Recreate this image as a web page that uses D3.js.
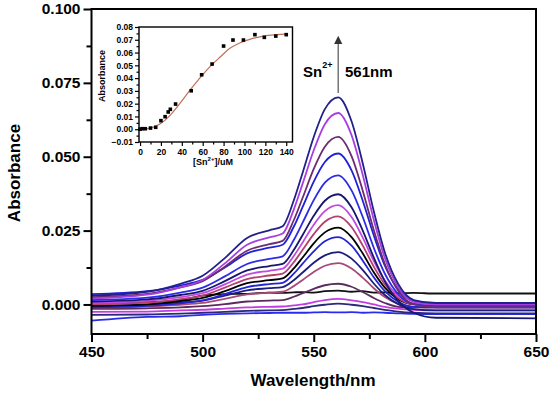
<!DOCTYPE html>
<html><head><meta charset="utf-8">
<script src="https://cdn.jsdelivr.net/npm/d3@7"></script>
<style>body{margin:0;background:#fff}svg{display:block;font-family:Arial,"Liberation Sans",sans-serif}</style>
</head><body><svg id="c" width="550" height="393"></svg>
<script>
// ---- data ----
const wavelengths = [450,475,490,500,510,520,530,536,541,545,550,555,561,567,572,577,582,588,595,605,650];
const seriesColors = ["#22208a","#a83ee0","#6b2d6e","#2020d8","#2c2ce6","#171770","#c04ae0","#b3406e","#000000","#2424d4","#1d1d80","#a84a78","#5c2b5e","#111111","#c23ce0","#2a2a78","#2b2bf0"];
const s1  = [.0030,.0043,.0070,.0097,.0157,.0225,.0251,.0265,.0352,.0446,.0567,.0661,.0701,.0620,.0479,.0316,.0176,.0069,.0015,.0005,.0005];
const s2  = [.0020,.0033,.0058,.0083,.0139,.0202,.0227,.0240,.0321,.0409,.0522,.0610,.0648,.0573,.0440,.0287,.0157,.0058,.0009,.0000,.0000];
const s3  = [.0025,.0036,.0058,.0079,.0128,.0182,.0204,.0215,.0285,.0361,.0459,.0534,.0567,.0502,.0386,.0252,.0137,.0046,.0000,-.0010,-.0010];
const s4  = [.0035,.0045,.0064,.0083,.0125,.0173,.0192,.0202,.0263,.0330,.0416,.0482,.0511,.0454,.0352,.0234,.0131,.0051,.0011,.0003,.0003];
const s5  = [.0015,.0023,.0040,.0057,.0095,.0137,.0154,.0163,.0218,.0277,.0353,.0412,.0437,.0386,.0297,.0192,.0104,.0035,.0001,-.0005,-.0005];
const s6  = [.0010,.0017,.0032,.0046,.0079,.0115,.0130,.0137,.0184,.0235,.0300,.0351,.0373,.0329,.0251,.0159,.0078,.0011,-.0028,-.0045,-.0047];
const s7  = [.0005,.0012,.0025,.0038,.0068,.0101,.0114,.0121,.0164,.0210,.0270,.0316,.0336,.0296,.0227,.0147,.0081,.0029,.0004,.0000,.0000];
const s8  = [.0000,.0006,.0018,.0030,.0057,.0086,.0098,.0104,.0143,.0185,.0238,.0280,.0298,.0262,.0200,.0128,.0068,.0022,.0000,-.0005,-.0005];
const s9  = [-.0005,.0000,.0011,.0022,.0045,.0072,.0082,.0088,.0122,.0159,.0207,.0244,.0260,.0228,.0173,.0109,.0057,.0018,.0001,.0000,.0000];
const s10 = [-.0010,-.0005,.0004,.0014,.0035,.0059,.0069,.0073,.0104,.0138,.0180,.0214,.0228,.0199,.0149,.0092,.0045,.0009,-.0008,-.0010,-.0010];
const s11 = [-.0005,-.0001,.0006,.0013,.0030,.0048,.0055,.0059,.0082,.0108,.0141,.0166,.0177,.0155,.0117,.0071,.0032,.0001,-.0016,-.0020,-.0020];
const s12 = [-.0010,-.0007,-.0001,.0005,.0019,.0034,.0040,.0043,.0062,.0083,.0110,.0131,.0140,.0122,.0091,.0055,.0025,.0002,-.0008,-.0010,-.0010];
const s13 = [-.0015,-.0013,-.0010,-.0006,.0001,.0010,.0013,.0015,.0026,.0038,.0053,.0065,.0070,.0060,.0042,.0022,.0005,-.0008,-.0010,-.0010,-.0010];
const s14 = [.0005,.0008,.0015,.0030,.0035,.0036,.0040,.0039,.0041,.0042,.0040,.0045,.0047,.0043,.0045,.0040,.0041,.0038,.0039,.0037,.0037];
const s15 = [-.0025,-.0024,-.0020,-.0018,-.0014,-.0010,-.0008,-.0007,-.0003,.0000,.0008,.0015,.0019,.0014,.0008,.0000,-.0008,-.0014,-.0018,-.0020,-.0020];
const s16 = [-.0035,-.0034,-.0031,-.0028,-.0025,-.0022,-.0020,-.0019,-.0015,-.0012,-.0006,-.0001,.0003,-.0001,-.0006,-.0012,-.0018,-.0024,-.0028,-.0030,-.0030];
const s17 = [-.0055,-.0042,-.0040,-.0035,-.0032,-.0030,-.0029,-.0028,-.0028,-.0028,-.0027,-.0026,-.0027,-.0026,-.0028,-.0027,-.0028,-.0030,-.0032,-.0033,-.0033];
const spectra = [s17,s16,s15,s14,s13,s12,s11,s10,s9,s8,s7,s6,s5,s4,s3,s2,s1];
const spectraColors = seriesColors.slice().reverse();

const xTicks = [450,500,550,600,650];
const yTicks = [0,0.025,0.05,0.075,0.1];
const yTickLabels = ["0.000","0.025","0.050","0.075","0.100"];

const insetConc = [0,2,5,10,15,20,24,27,29,34,49,59,69,80,89,99,110,119,130,140];
const insetAbs  = [0.0000,0.0004,0.0004,0.0009,0.0015,0.0067,0.0098,0.0135,0.0156,0.0197,0.0301,0.0426,0.0510,0.0651,0.0698,0.0698,0.0740,0.0719,0.0729,0.0740];
const fitConc = [0,10,19,29,38,48,57,67,77,86,96,105,118,131,140];
const fitAbs  = [-0.0003,0.0008,0.004,0.011,0.020,0.0307,0.0398,0.049,0.0567,0.0633,0.0677,0.0703,0.0729,0.074,0.0745];
const insetXTicks = [0,20,40,60,80,100,120,140];
const insetYTicks = [-0.01,0,0.01,0.02,0.03,0.04,0.05,0.06,0.07,0.08];

// ---- main chart ----
const svg = d3.select("#c");
const x = d3.scaleLinear().domain([450,650]).range([91.5,536]);
const y = d3.scaleLinear().domain([-0.01,0.1]).range([334,9]);

svg.append("clipPath").attr("id","clip").append("rect")
  .attr("x",91.5).attr("y",9).attr("width",536-91.5).attr("height",325);

const line = d3.line().x(d=>x(d[0])).y(d=>y(d[1])).curve(d3.curveMonotoneX);
const g = svg.append("g").attr("clip-path","url(#clip)");
spectra.forEach((s,i)=>{
  g.append("path").datum(wavelengths.map((w,j)=>[w,s[j]]))
   .attr("d",line).attr("fill","none").attr("stroke",spectraColors[i]).attr("stroke-width",1.8);
});

// frame
svg.append("rect").attr("x",91.5).attr("y",9).attr("width",536-91.5).attr("height",325)
  .attr("fill","none").attr("stroke","#000").attr("stroke-width",2);

// axes
const xAxis = svg.append("g").attr("transform","translate(0,334)")
  .call(d3.axisBottom(x).tickValues(xTicks).tickSize(8).tickFormat(d3.format("d")));
const xMinor = svg.append("g").attr("transform","translate(0,334)")
  .call(d3.axisBottom(x).tickValues([475,525,575,625]).tickSize(5).tickFormat(""));
const yAxis = svg.append("g").attr("transform","translate(91.5,0)")
  .call(d3.axisLeft(y).tickValues(yTicks).tickSize(8).tickFormat((d,i)=>yTickLabels[i]));
const yMinor = svg.append("g").attr("transform","translate(91.5,0)")
  .call(d3.axisLeft(y).tickValues([0.0125,0.0375,0.0625,0.0875]).tickSize(5).tickFormat(""));
[xAxis,xMinor,yAxis,yMinor].forEach(a=>{
  a.select(".domain").remove();
  a.selectAll("line").attr("stroke","#000").attr("stroke-width",2);
  a.selectAll("text").attr("fill","#000").attr("font-size","15.5px").attr("font-weight","bold");
});
xAxis.selectAll("text").attr("dy",null).attr("y",23);
yAxis.selectAll("text").attr("x",-11);

svg.append("text").attr("x",313).attr("y",386).attr("text-anchor","middle")
  .attr("font-size","17px").attr("font-weight","bold").text("Wavelength/nm");
svg.append("text").attr("transform","translate(20,173) rotate(-90)").attr("text-anchor","middle")
  .attr("font-size","17px").attr("font-weight","bold").text("Absorbance");

// arrow + annotations
const ax = x(561);
svg.append("defs").append("marker").attr("id","ah").attr("viewBox","0 0 10 10")
  .attr("refX",5).attr("refY",5).attr("markerWidth",7).attr("markerHeight",9).attr("orient","auto")
  .append("path").attr("d","M0,0 L10,5 L0,10 Z").attr("fill","#333");
svg.append("line").attr("x1",ax).attr("x2",ax).attr("y1",93).attr("y2",40)
  .attr("stroke","#555").attr("stroke-width",1.2).attr("marker-end","url(#ah)");
const sn = svg.append("text").attr("x",303).attr("y",77).attr("font-size","15px").attr("font-weight","bold");
sn.append("tspan").text("Sn");
sn.append("tspan").attr("dy",-9).attr("font-size","9px").text("2+");
svg.append("text").attr("x",345).attr("y",77).attr("font-size","15px").attr("font-weight","bold").text("561nm");

// ---- inset ----
const ix = d3.scaleLinear().domain([-1,146]).range([139,292.5]);
const iy = d3.scaleLinear().domain([-0.01,0.08]).range([142,27]);
svg.append("rect").attr("x",139).attr("y",27).attr("width",292.5-139).attr("height",115)
  .attr("fill","#fff").attr("stroke","#000").attr("stroke-width",1.4);

const ixA = svg.append("g").attr("transform","translate(0,142)")
  .call(d3.axisBottom(ix).tickValues(insetXTicks).tickSize(4).tickFormat(d3.format("d")));
const ixM = svg.append("g").attr("transform","translate(0,142)")
  .call(d3.axisBottom(ix).tickValues([10,30,50,70,90,110,130]).tickSize(2.5).tickFormat(""));
const iyA = svg.append("g").attr("transform","translate(139,0)")
  .call(d3.axisLeft(iy).tickValues(insetYTicks).tickSize(4).tickFormat(d3.format(".2f")));
const iyM = svg.append("g").attr("transform","translate(139,0)")
  .call(d3.axisLeft(iy).tickValues([-0.005,0.005,0.015,0.025,0.035,0.045,0.055,0.065,0.075]).tickSize(2.5).tickFormat(""));
[ixA,ixM,iyA,iyM].forEach(a=>{
  a.select(".domain").remove();
  a.selectAll("line").attr("stroke","#000").attr("stroke-width",1.2);
  a.selectAll("text").attr("fill","#000").attr("font-size","8.5px").attr("font-weight","bold");
});
ixA.selectAll("text").attr("dy",null).attr("y",12.5);
iyA.selectAll("text").attr("x",-6);
svg.append("text").attr("transform","translate(105,76) rotate(-90)").attr("text-anchor","middle")
  .attr("font-size","9px").attr("font-weight","bold").text("Absorbance");
const il = svg.append("text").attr("x",213).attr("y",165).attr("text-anchor","middle")
  .attr("font-size","9px").attr("font-weight","bold");
il.append("tspan").text("[Sn");
il.append("tspan").attr("dy",-4).attr("font-size","6px").text("2+");
il.append("tspan").attr("dy",4).text("]/uM");

svg.append("path").datum(fitConc.map((c,i)=>[c,fitAbs[i]]))
  .attr("d",d3.line().x(d=>ix(d[0])).y(d=>iy(d[1])).curve(d3.curveMonotoneX))
  .attr("fill","none").attr("stroke","#c0705a").attr("stroke-width",1.2);
svg.append("g").selectAll("rect").data(insetConc.map((c,i)=>[c,insetAbs[i]])).join("rect")
  .attr("x",d=>ix(d[0])-1.8).attr("y",d=>iy(d[1])-1.8).attr("width",3.6).attr("height",3.6).attr("fill","#000");
</script></body></html>
